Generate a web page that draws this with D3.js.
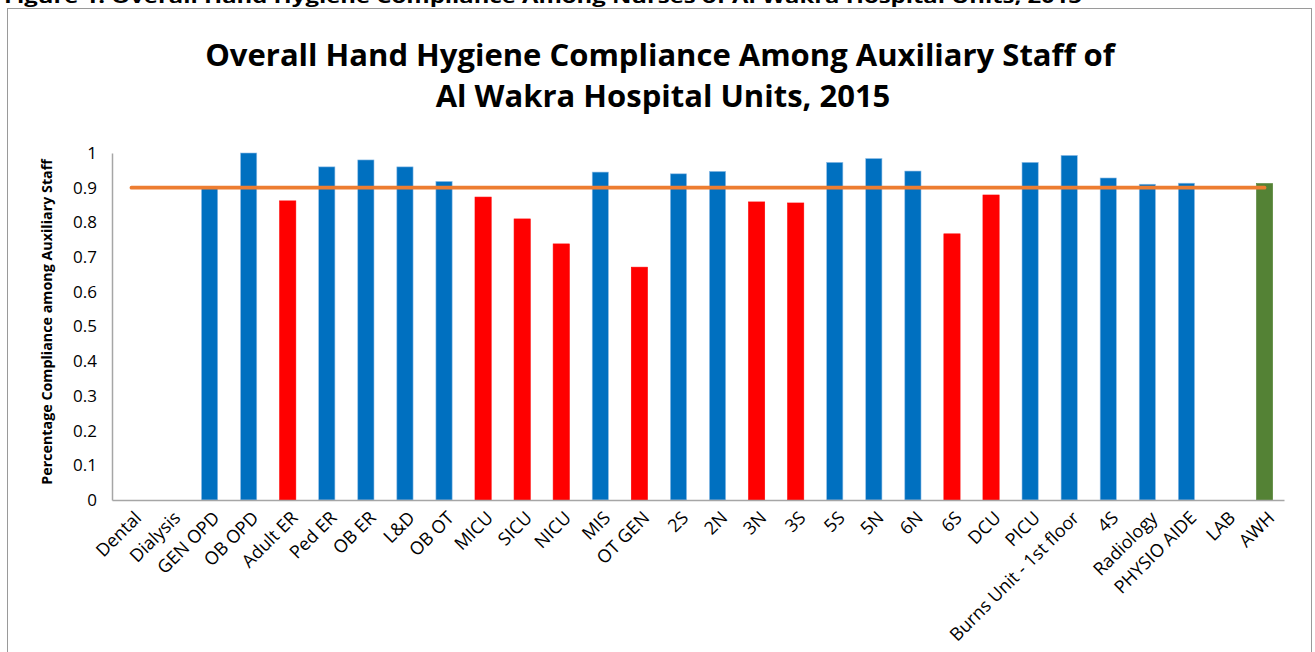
<!doctype html>
<html>
<head>
<meta charset="utf-8">
<script src="https://d3js.org/d3.v7.min.js"></script>
<style>
  body { margin: 0; background: #fff; }
  text { font-family: "Open Sans", sans-serif; fill: #000; }
</style>
</head>
<body>
<div id="chart"></div>
<script>
// units along the x axis
var units = ["Dental", "Dialysis", "GEN OPD", "OB OPD", "Adult ER", "Ped ER", "OB ER", "L&D", "OB OT",
  "MICU", "SICU", "NICU", "MIS", "OT GEN", "2S", "2N", "3N", "3S", "5S", "5N", "6N", "6S", "DCU",
  "PICU", "Burns Unit - 1st floor", "4S", "Radiology", "PHYSIO AIDE", "LAB", "AWH"];
// compliance per unit (null = no bar)
var compliance = [null, null, 0.90, 1.00, 0.862, 0.96, 0.98, 0.96, 0.918,
  0.873, 0.81, 0.738, 0.945, 0.671, 0.94, 0.947, 0.859, 0.856, 0.973, 0.984, 0.948, 0.767, 0.879,
  0.973, 0.993, 0.928, 0.91, 0.913, null, 0.912];
// bar group: b = meets target, r = below target, t = hospital total
var group = ["b", "b", "b", "b", "r", "b", "b", "b", "b",
  "r", "r", "r", "b", "r", "b", "b", "r", "r", "b", "b", "b", "r", "r",
  "b", "b", "b", "b", "b", "b", "t"];
var target = 0.9;
var yTicks = [0, 0.1, 0.2, 0.3, 0.4, 0.5, 0.6, 0.7, 0.8, 0.9, 1];

var W = 1315, H = 652;
var margin = {top: 153, right: 31, bottom: 152, left: 112};

var svg = d3.select("#chart").append("svg")
  .attr("width", W)
  .attr("height", H);

// caption of the figure, cut by the top of the page
svg.append("text")
  .attr("x", 4).attr("y", 3)
  .attr("textLength", 1078)
  .attr("lengthAdjust", "spacingAndGlyphs")
  .style("font-size", "18px").style("font-weight", "bold")
  .text("Figure 1: Overall Hand Hygiene Compliance Among Nurses of Al Wakra Hospital Units, 2015");

// chart border
svg.append("rect")
  .attr("x", 7.5).attr("y", 8.5)
  .attr("width", 1304).attr("height", 700)
  .attr("fill", "none").attr("stroke", "#9a9a9a").attr("stroke-width", 1);

var title = svg.append("text")
  .attr("text-anchor", "middle")
  .style("font-size", "31px").style("font-weight", "bold");
title.append("tspan").attr("x", 660).attr("y", 66).text("Overall Hand Hygiene Compliance Among Auxiliary Staff of");
title.append("tspan").attr("x", 663).attr("y", 107).text("Al Wakra Hospital Units, 2015");

var g = svg.append("g")
  .attr("transform", "translate(" + margin.left + "," + margin.top + ")");
var width = W - margin.left - margin.right,
    height = H - margin.top - margin.bottom;

var x = d3.scaleBand()
  .domain(units)
  .range([0, width])
  .paddingInner(0.585)
  .paddingOuter(0.29);

var y = d3.scaleLinear()
  .domain([0, 1])
  .range([height, 0]);

var colour = {b: "#0070C0", r: "#FF0000", t: "#548235"};
var edge = {b: "#8fbde6", r: "#FF0000", t: "#548235"};

var data = units.map(function(u, i) { return {unit: u, value: compliance[i], grp: group[i]}; });

g.append("g")
  .selectAll("rect")
  .data(data.filter(function(d) { return d.value != null; }))
  .join("rect")
    .attr("x", function(d) { return x(d.unit); })
    .attr("y", function(d) { return y(d.value); })
    .attr("width", x.bandwidth())
    .attr("height", function(d) { return height - y(d.value); })
    .attr("fill", function(d) { return colour[d.grp]; })
    .attr("stroke", function(d) { return edge[d.grp]; })
    .attr("stroke-width", 0.6);

// target line across every unit
var line = d3.line()
  .x(function(d) { return x(d.unit) + x.bandwidth() / 2; })
  .y(function() { return y(target); });

g.append("path")
  .datum(data)
  .attr("d", line)
  .attr("fill", "none")
  .attr("stroke", "#ED7D31")
  .attr("stroke-width", 3.7)
  .attr("stroke-linecap", "round");

// y axis
var yAxis = g.append("g")
  .call(d3.axisLeft(y).tickValues(yTicks).tickSize(0).tickPadding(15)
    .tickFormat(function(d) { return d === 0 || d === 1 ? d3.format("d")(d) : d3.format(".1f")(d); }));
yAxis.select(".domain").attr("stroke", "#a6a6a6").attr("stroke-width", 1.5);
yAxis.selectAll("text").style("font-size", "17px").style("font-family", "'Open Sans', sans-serif");

// x axis
var xAxis = g.append("g")
  .attr("transform", "translate(0," + height + ")")
  .call(d3.axisBottom(x).tickSize(0).tickFormat(""));
xAxis.select(".domain").attr("stroke", "#a6a6a6").attr("stroke-width", 1.5);

xAxis.selectAll(".tick")
  .append("text")
    .attr("text-anchor", "end")
    .attr("transform", "translate(" + (x.bandwidth() / 2 + 3) + ",19) rotate(-45)")
    .style("font-size", "18px")
    .text(function(d) { return d; });

// y axis title
svg.append("text")
  .attr("transform", "translate(52,322) rotate(-90)")
  .attr("text-anchor", "middle")
  .style("font-size", "14.3px").style("font-weight", "bold")
  .text("Percentage Compliance among Auxiliary Staff");
</script>
</body>
</html>
